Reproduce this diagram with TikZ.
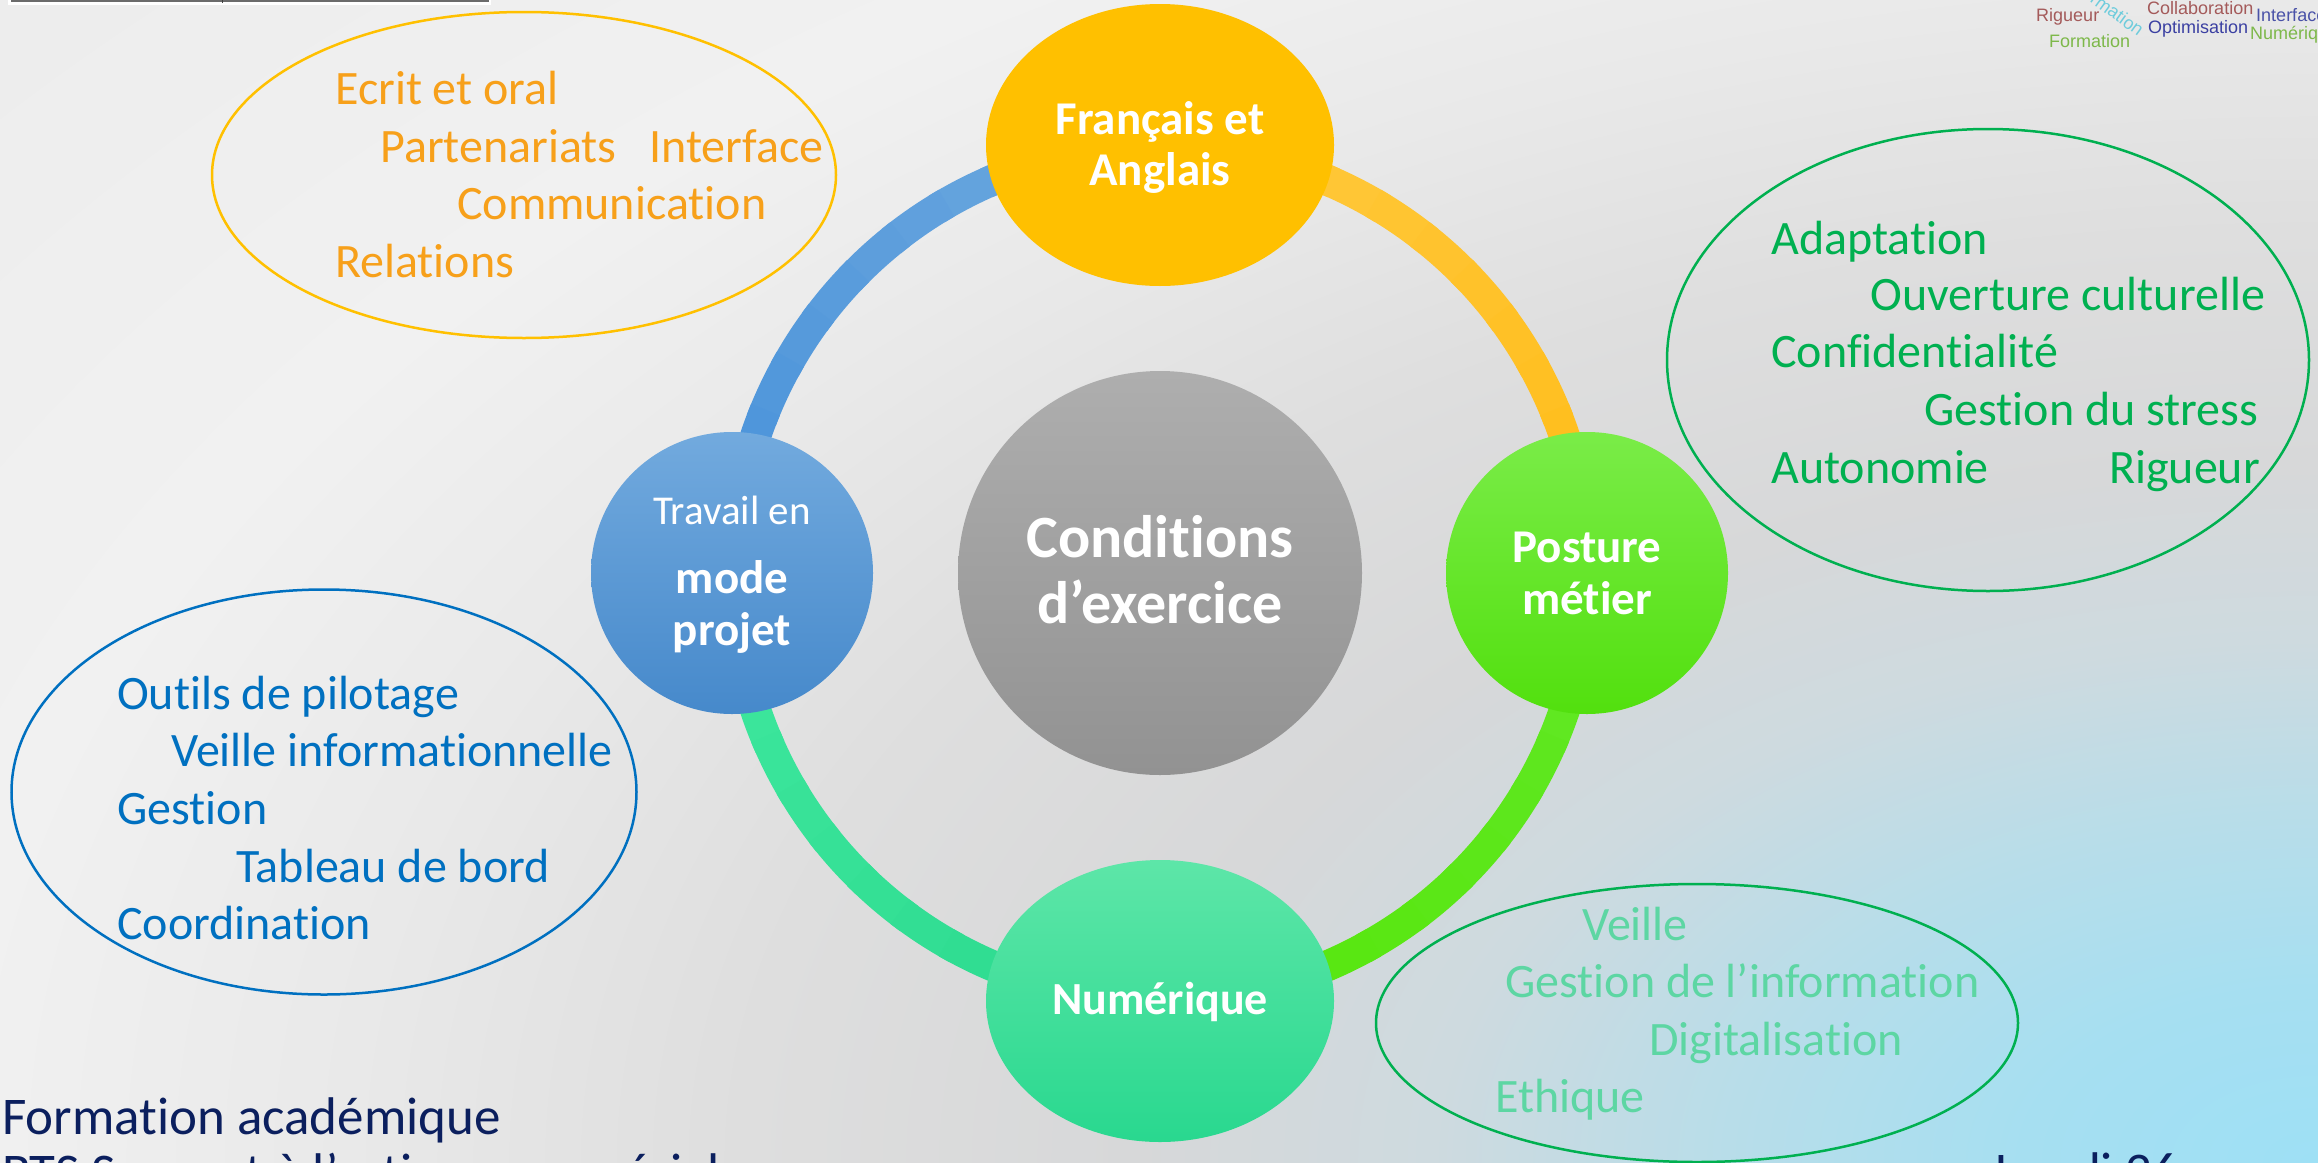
\documentclass[tikz,border=0pt]{standalone}
\usepackage{fontspec}
\setmainfont{Carlito}[Ligatures=CommonOff]
\newfontfamily\cloudfont{Liberation Sans}
\usetikzlibrary{shapes.geometric}

% palette
\definecolor{bgA}{RGB}{158,224,245}
\definecolor{bgB}{RGB}{166,223,241}
\definecolor{bgC}{RGB}{184,221,233}
\definecolor{bgD}{RGB}{206,218,223}
\definecolor{bgE}{RGB}{215,216,217}
\definecolor{bgF}{RGB}{222,222,222}
\definecolor{bgG}{RGB}{233,233,233}
\definecolor{bgH}{RGB}{241,241,241}
\definecolor{bgI}{RGB}{236,236,236}

\definecolor{ringBlueA}{HTML}{6EA9DE}
\definecolor{ringBlueB}{HTML}{4892DA}
\definecolor{ringGoldA}{HTML}{FFC940}
\definecolor{ringGoldB}{HTML}{FFBD18}
\definecolor{ringLimeA}{HTML}{62E826}
\definecolor{ringLimeB}{HTML}{55E60A}
\definecolor{ringMintA}{HTML}{3FE89E}
\definecolor{ringMintB}{HTML}{2BD98E}

\definecolor{frGold}{HTML}{FFC000}
\definecolor{poTop}{HTML}{7AEC48}
\definecolor{poBot}{HTML}{52E00E}
\definecolor{trTop}{HTML}{72AADE}
\definecolor{trBot}{HTML}{4689CB}
\definecolor{nuTop}{HTML}{5DE6A8}
\definecolor{nuBot}{HTML}{29D88F}
\definecolor{cdTop}{HTML}{AEAEAE}
\definecolor{cdBot}{HTML}{929292}

\definecolor{txOrange}{HTML}{F7A01A}
\definecolor{lnOrange}{HTML}{FFC000}
\definecolor{txGreen}{HTML}{00B050}
\definecolor{txBlue}{HTML}{0070C0}
\definecolor{txMint}{HTML}{5DD6A3}
\definecolor{navy}{HTML}{0B1F5E}

\definecolor{cloudRed}{HTML}{A45A5A}
\definecolor{cloudBlue}{HTML}{4A52A8}
\definecolor{cloudBlueB}{HTML}{3B40A2}
\definecolor{cloudGreen}{HTML}{7DB84A}
\definecolor{cloudTeal}{HTML}{6ECCDC}

% 25bp is the rim of the shaded ellipse
\pgfdeclareradialshading{backdrop}{\pgfpoint{0bp}{0bp}}{%
  color(0bp)=(bgA); color(2.34bp)=(bgB); color(4.69bp)=(bgC);
  color(7.03bp)=(bgD); color(9.38bp)=(bgE); color(12.5bp)=(bgF);
  color(15.63bp)=(bgG); color(18.75bp)=(bgH); color(25bp)=(bgI);
  color(50bp)=(bgI)}

\tikzset{
  bubble/.style={inner sep=0, outer sep=0, draw=none},
  bubbletxt/.style={inner sep=0, anchor=base, text=white,
    font=\bfseries\fontsize{47}{51}\selectfont},
  ovalbox/.style={ellipse, inner sep=0, line width=2.5, fill=none},
  ovaltxt/.style={inner sep=0, anchor=base west,
    font=\fontsize{48}{57}\selectfont},
  foottxt/.style={inner sep=0, anchor=base west, text=navy,
    font=\fontsize{53}{60}\selectfont},
  cloudtxt/.style={inner sep=0, anchor=base west,
    font=\cloudfont\fontsize{18}{20}\selectfont},
}

% one quarter of the ring, drawn as short pieces blending colA into colB
\newcommand\ringarc[4]{%
  \foreach \k in {0,...,11}{%
    \pgfmathsetmacro\aa{#1+(#2-#1)*\k/12}%
    \pgfmathsetmacro\bb{#1+(#2-#1)*(\k+1.2)/12}%
    \pgfmathtruncatemacro\mixp{100-100*\k/11}%
    \draw[line width=31, draw=#3!\mixp!#4]
      (hub) ++(\aa:427) arc[start angle=\aa, end angle=\bb, radius=427];
  }%
}

\begin{document}
\begin{tikzpicture}[x=1pt,y=-1pt]
\useasboundingbox (0,0) rectangle (2318,1162);
\clip (0,0) rectangle (2318,1162);

% backdrop
\shade[shading=backdrop] (2318,1162) ellipse [x radius=3152, y radius=1859];

% frame of a picture just above the top edge
\fill[white] (8,0) rectangle (491,4.5);
\fill[black!58] (11,0) rectangle (489,2.2);
\draw[black!75, line width=1] (222,0) -- (222,2.5);

% word cloud in the top right corner
\node[cloudtxt, text=cloudRed] (wRig) at (2036,21) {Rigueur};
\node[cloudtxt, text=cloudRed] (wCol) at (2147,14) {Collaboration};
\node[cloudtxt, text=cloudBlue] (wInt) at (2256,21) {Interface};
\node[cloudtxt, text=cloudBlueB] (wOpt) at (2148,33) {Optimisation};
\node[cloudtxt, text=cloudGreen] (wNum) at (2250,39) {Numérique};
\node[cloudtxt, text=cloudGreen] (wFor) at (2049,47) {Formation};
\node[cloudtxt, text=cloudTeal, anchor=base east, rotate=-36] (wForR) at (2138,37) {Formation};

% ring
\coordinate (hub) at (1160,573);
\ringarc{-90}{-180}{ringBlueA}{ringBlueB}
\ringarc{-90}{0}{ringGoldA}{ringGoldB}
\ringarc{0}{90}{ringLimeA}{ringLimeB}
\ringarc{180}{90}{ringMintA}{ringMintB}

% bubbles on the ring
\node[bubble, ellipse, minimum width=348, minimum height=282, fill=frGold] (fr) at (1160,145) {};
\node[bubble, ellipse, minimum width=348, minimum height=282, top color=nuTop, bottom color=nuBot] (nu) at (1160,1001) {};
\node[bubble, circle, minimum size=282, top color=poTop, bottom color=poBot] (po) at (1587,573) {};
\node[bubble, circle, minimum size=282, top color=trTop, bottom color=trBot] (tr) at (732,573) {};
\node[bubble, circle, minimum size=404, top color=cdTop, bottom color=cdBot] (cd) at (hub) {};

% bubble labels
\node[bubbletxt] (frA) at (1160,134) {Français et};
\node[bubbletxt] (frB) at (1160,185) {Anglais};
\node[bubbletxt, font=\bfseries\fontsize{46}{51}\selectfont] (nuA) at (1160,1014) {Numérique};
\node[bubbletxt] (poA) at (1587,562) {Posture};
\node[bubbletxt] (poB) at (1587,614) {métier};
\node[bubbletxt, font=\fontsize{41}{45}\selectfont] (trA) at (732,524) {Travail en};
\node[bubbletxt] (trB) at (732,593) {mode};
\node[bubbletxt] (trC) at (732,645) {projet};
\node[bubbletxt, font=\bfseries\fontsize{60}{66}\selectfont] (cdA) at (1160,557) {Conditions};
\node[bubbletxt, font=\bfseries\fontsize{60}{66}\selectfont] (cdB) at (1160,623) {d’exercice};

% oval: languages
\node[ovalbox, draw=lnOrange, minimum width=624, minimum height=326] (ovL) at (524,175) {};
\node[ovaltxt, text=txOrange] (l1) at (335,104) {Ecrit et oral};
\node[ovaltxt, text=txOrange] (l2) at (380,162) {Partenariats};
\node[ovaltxt, text=txOrange] (l3) at (649,162) {Interface};
\node[ovaltxt, text=txOrange] (l4) at (457,219) {Communication};
\node[ovaltxt, text=txOrange] (l5) at (335,277) {Relations};

% oval: professional posture
\node[ovalbox, draw=txGreen, minimum width=642, minimum height=462] (ovP) at (1988,360) {};
\node[ovaltxt, text=txGreen] (p1) at (1771,254) {Adaptation};
\node[ovaltxt, text=txGreen] (p2) at (1870,310) {Ouverture culturelle};
\node[ovaltxt, text=txGreen] (p3) at (1771,367) {Confidentialité};
\node[ovaltxt, text=txGreen] (p4) at (1924,425) {Gestion du stress};
\node[ovaltxt, text=txGreen] (p5) at (1771,483) {Autonomie};
\node[ovaltxt, text=txGreen] (p6) at (2109,483) {Rigueur};

% oval: project work
\node[ovalbox, draw=txBlue, minimum width=625, minimum height=405] (ovT) at (324,792) {};
\node[ovaltxt, text=txBlue] (t1) at (117,709) {Outils de pilotage};
\node[ovaltxt, text=txBlue] (t2) at (171,766) {Veille informationnelle};
\node[ovaltxt, text=txBlue] (t3) at (117,824) {Gestion};
\node[ovaltxt, text=txBlue] (t4) at (236,882) {Tableau de bord};
\node[ovaltxt, text=txBlue] (t5) at (117,939) {Coordination};

% oval: digital
\node[ovalbox, draw=txGreen, minimum width=642, minimum height=278] (ovN) at (1697,1023) {};
\node[ovaltxt, text=txMint] (n1) at (1582,940) {Veille};
\node[ovaltxt, text=txMint] (n2) at (1505,997) {Gestion de l’information};
\node[ovaltxt, text=txMint] (n3) at (1649,1055) {Digitalisation};
\node[ovaltxt, text=txMint] (n4) at (1495,1112) {Ethique};

% footer
\node[foottxt] (f1) at (2,1134) {Formation académique};
\node[foottxt] (f2) at (2,1190) {BTS Support à l’action managériale};
\node[foottxt] (f3) at (1995,1189) {Lundi 26};
\end{tikzpicture}
\end{document}
